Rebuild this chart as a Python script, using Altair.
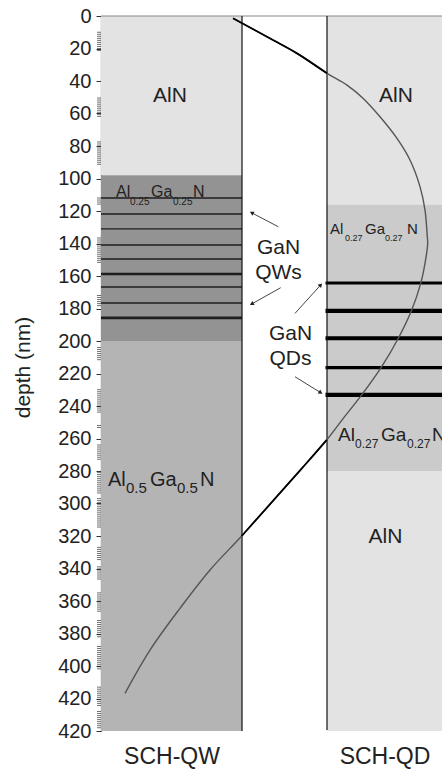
import math
import altair as alt
import pandas as pd

FONT = "Liberation Sans"
INK = "#222222"

# ---- depth axis -------------------------------------------------------------
depth_ticks = [0, 20, 40, 60, 80, 100, 120, 140, 160, 180, 200, 220,
               240, 260, 280, 300, 320, 340, 360, 380, 400, 420, 440]
depth_tick_labels = ["0", "20", "40", "60", "80", "100", "120", "140", "160",
                     "180", "200", "220", "240", "260", "280", "300", "320",
                     "340", "360", "380", "400", "420", "420"]
# bunches of small ticks along the depth axis (start, end) in nm
minor_tick_runs = [(10, 22), (50.5, 62), (77.5, 91.7), (112, 116), (136.6, 152),
                   (172, 179), (204, 212), (230, 244), (252, 254), (264, 273),
                   (281, 294), (297, 315), (327, 335), (339, 347), (355, 367),
                   (372, 382), (388, 402), (413, 425), (428, 439)]

# ---- structures --------------------------------------------------------------
columns = ["SCH-QW", "SCH-QD"]
col_left = [0.0, 2.26]
col_right = [1.41, 3.41]

layer_col = ["SCH-QW", "SCH-QW", "SCH-QW", "SCH-QD", "SCH-QD", "SCH-QD"]
layer_name = ["AlN", "Al0.25Ga0.25N", "Al0.5Ga0.5N", "AlN", "Al0.27Ga0.27N", "AlN"]
layer_top = [0, 98, 200, 0, 116, 280]
layer_bottom = [98, 200, 440, 116, 280, 440]
layer_colors = {"AlN": "#e3e3e3", "Al0.25Ga0.25N": "#939393",
                "Al0.5Ga0.5N": "#b4b4b4", "Al0.27Ga0.27N": "#cbcbcb"}

# GaN quantum wells (SCH-QW) and quantum-dot planes (SCH-QD), depth in nm
qw_depth = [112, 121.8, 131, 140.9, 149.5, 158.8, 166.8, 176.6, 185.8]
qw_width = [1.4, 1.4, 1.4, 1.4, 1.4, 2.6, 1.4, 1.4, 2.6]
qd_depth = [164.3, 181.5, 198.3, 216.4, 233.2]
qd_width = [2.8, 4.2, 4.2, 3.2, 4.2]

# optical mode profile
curve_x = [1.32, 1.72, 1.96, 2.26, 2.46, 2.62, 2.79, 2.96, 3.09, 3.19, 3.24,
           3.263, 3.267, 3.24, 3.197, 3.107, 2.973, 2.807, 2.607, 2.423,
           2.257, 2.023, 1.757, 1.407, 1.09, 0.79, 0.49, 0.24]
curve_d = [1.4, 14.8, 23.0, 35.3, 42.5, 50.6, 62.0, 75.3, 88.6, 105.0, 119.4,
           135.8, 139.9, 152.2, 164.5, 180.9, 198.3, 215.8, 233.2, 247.6,
           260.9, 277.4, 295.8, 320.0, 340.9, 364.5, 390.2, 416.8]

# ---- layout helpers ------------------------------------------------------------
W, H = 341, 715
X_MAX, D_MAX = 3.41, 440
PX_X = W / X_MAX
PX_D = H / D_MAX

xscale = alt.Scale(domain=[0, X_MAX], nice=False, zero=False)
yscale = alt.Scale(domain=[0, D_MAX], reverse=True, nice=False, zero=False)

label_expr = "datum.label"
for v, lab in reversed(list(zip(depth_ticks, depth_tick_labels))):
    if str(v) != lab:
        label_expr = f"datum.value == {v} ? '{lab}' : ({label_expr})"

y_axis = alt.Axis(values=depth_ticks, labelExpr=label_expr, title="depth (nm)",
                  grid=False, tickSize=5, tickWidth=1, tickColor="#333333",
                  domainColor="#333333", domainWidth=1.2, labelPadding=5,
                  labelFont=FONT, labelFontSize=20, labelColor=INK,
                  labelOverlap=False, titleFont=FONT, titleFontSize=21,
                  titleFontWeight="normal", titleColor=INK, titlePadding=24,
                  titleY=351)

col_center = [(a + b) / 2 for a, b in zip(col_left, col_right)]
split = (col_right[0] + col_left[1]) / 2
x_axis = alt.Axis(values=col_center,
                  labelExpr=f"datum.value < {split} ? '{columns[0]}' : '{columns[1]}'",
                  title="", grid=False, domain=False, ticks=False,
                  labelFont=FONT, labelFontSize=23, labelColor=INK,
                  labelPadding=14)


def xe(field):
    return alt.X(field, type="quantitative", scale=xscale, axis=x_axis)


def ye(field):
    return alt.Y(field, type="quantitative", scale=yscale, axis=y_axis)


# ---- layers ----------------------------------------------------------------------
left_of = dict(zip(columns, col_left))
right_of = dict(zip(columns, col_right))
layers = pd.DataFrame({"col": layer_col, "name": layer_name,
                       "top": layer_top, "bottom": layer_bottom})
layers["x0"] = layers["col"].map(left_of)
layers["x1"] = layers["col"].map(right_of)

bands = alt.Chart(layers).mark_rect(strokeWidth=0).encode(
    x=xe("x0"), x2="x1",
    y=ye("top"), y2="bottom",
    color=alt.Color("name:N", legend=None,
                    scale=alt.Scale(domain=list(layer_colors),
                                    range=list(layer_colors.values()))),
)

qw = pd.DataFrame({"d": qw_depth, "w": qw_width,
                   "x0": col_left[0], "x1": col_right[0]})
qw_rules = alt.Chart(qw).mark_rule(color="#1e1e1e").encode(
    x=xe("x0"), x2="x1", y=ye("d"),
    strokeWidth=alt.StrokeWidth("w:Q", scale=None),
)

qd = pd.DataFrame({"d": qd_depth, "w": qd_width,
                   "x0": col_left[1] - 0.015, "x1": col_right[1]})
qd_rules = alt.Chart(qd).mark_rule(color="#000000").encode(
    x=xe("x0"), x2="x1", y=ye("d"),
    strokeWidth=alt.StrokeWidth("w:Q", scale=None),
)

# column outlines: top edge and the two sides bounding the gap
edges = pd.DataFrame({"x": [col_right[0], col_left[1]], "d0": [0, 0],
                      "d1": [D_MAX, D_MAX - 0.6]})
edge_rules = alt.Chart(edges).mark_rule(color="#111111", strokeWidth=1.2).encode(
    x=xe("x"), y=ye("d0"), y2="d1")
top_edge = alt.Chart(pd.DataFrame({"x0": [0], "x1": [X_MAX], "d": [0]})).mark_rule(
    color="#8a8a8a", strokeWidth=1.2).encode(x=xe("x0"), x2="x1", y=ye("d"))

# minor ticks along the depth axis
minor = []
for a, b in minor_tick_runs:
    v = a
    while v <= b + 1e-9:
        minor.append(v)
        v += 1.25
minor_ticks = alt.Chart(pd.DataFrame({"d": minor})).mark_tick(
    orient="horizontal", size=4, thickness=1, color="#333333").encode(
    y=ye("d"), x=alt.value(-2))

# mode profile: grey over the layers, black across the empty gap
curve = pd.DataFrame({"x": curve_x, "d": curve_d, "i": range(len(curve_x))})
profile = alt.Chart(curve).mark_line(
    color="#555555", strokeWidth=1.4, interpolate="catmull-rom").encode(
    x=xe("x"), y=ye("d"), order="i:Q")
in_gap = [(1.30 <= v <= col_left[1] + 0.001) for v in curve_x]
run, piece, prev = -1, [], False
for flag in in_gap:
    if flag and not prev:
        run += 1
    piece.append(run if flag else -1)
    prev = flag
curve["piece"] = piece
profile_gap = alt.Chart(curve[curve["piece"] >= 0]).mark_line(
    color="#000000", strokeWidth=1.8, interpolate="catmull-rom").encode(
    x=xe("x"), y=ye("d"), order="i:Q", detail="piece:N")

# ---- annotations ---------------------------------------------------------------
centered = pd.DataFrame({
    "t": ["AlN", "AlN", "AlN", "GaN", "QWs", "GaN", "QDs"],
    "x": [0.69, 2.95, 2.845, 1.775, 1.775, 1.895, 1.895],
    "d": [52.9, 52.9, 324.3, 146.5, 161.8, 199.4, 214.8],
    "fs": [21, 21, 21, 21, 21, 21, 21],
})
centered_text = alt.Chart(centered).mark_text(
    align="center", baseline="alphabetic", font=FONT, color=INK).encode(
    x=xe("x"), y=ye("d"), text="t:N", size=alt.Size("fs:Q", scale=None))

formula = pd.DataFrame({
    "t": ["Al", "0.25", "Ga", "0.25", "N",
          "Al", "0.5", "Ga", "0.5", "N",
          "Al", "0.27", "Ga", "0.27", "N",
          "Al", "0.27", "Ga", "0.27", "N"],
    "x": [0.15, 0.29, 0.50, 0.72, 0.92,
          0.07, 0.25, 0.49, 0.76, 0.99,
          2.29, 2.44, 2.64, 2.84, 3.06,
          2.37, 2.54, 2.80, 3.06, 3.31],
    "d": [111.4, 116.3, 111.4, 116.3, 111.4,
          289.2, 293.5, 289.2, 293.5, 289.2,
          134.2, 138.5, 134.2, 138.5, 134.2,
          261.4, 265.8, 261.4, 265.8, 261.4],
    "fs": [16, 10, 16, 10, 16,
           20, 15, 20, 15, 20,
           15, 9, 15, 9, 15,
           19, 12, 19, 12, 19],
})
formula_text = alt.Chart(formula).mark_text(
    align="left", baseline="alphabetic", font=FONT, color=INK).encode(
    x=xe("x"), y=ye("d"), text="t:N", size=alt.Size("fs:Q", scale=None))

# arrows from the GaN labels to the wells / dot planes
arrows = pd.DataFrame({
    "x": [1.773, 1.797, 1.94, 1.94],
    "d": [129.7, 167.2, 183.0, 222.0],
    "x2": [1.507, 1.507, 2.197, 2.197],
    "d2": [121.1, 177.2, 165.5, 231.8],
})
arrows["ang"] = [
    math.degrees(math.atan2((bx - ax) * PX_X, -(bd - ad) * PX_D)) % 360
    for ax, ad, bx, bd in zip(arrows.x, arrows.d, arrows.x2, arrows.d2)
]
arrow_lines = alt.Chart(arrows).mark_rule(color="#444444", strokeWidth=1).encode(
    x=xe("x"), y=ye("d"), x2="x2", y2="d2")
arrow_heads = alt.Chart(arrows).mark_point(
    shape="triangle-up", filled=True, size=22, color="#222222", opacity=1).encode(
    x=xe("x2"), y=ye("d2"), angle=alt.Angle("ang:Q", scale=None))

chart = alt.layer(
    bands, qw_rules, qd_rules, top_edge, edge_rules, minor_ticks,
    profile, profile_gap, arrow_lines, arrow_heads, centered_text, formula_text,
).properties(
    width=W, height=H,
    autosize=alt.AutoSizeParams(type="none"),
    padding={"left": 101, "top": 16, "right": 0, "bottom": 38},
).configure_view(strokeWidth=0)

chart.save("out.html", embed_options={"renderer": "svg", "actions": False})
